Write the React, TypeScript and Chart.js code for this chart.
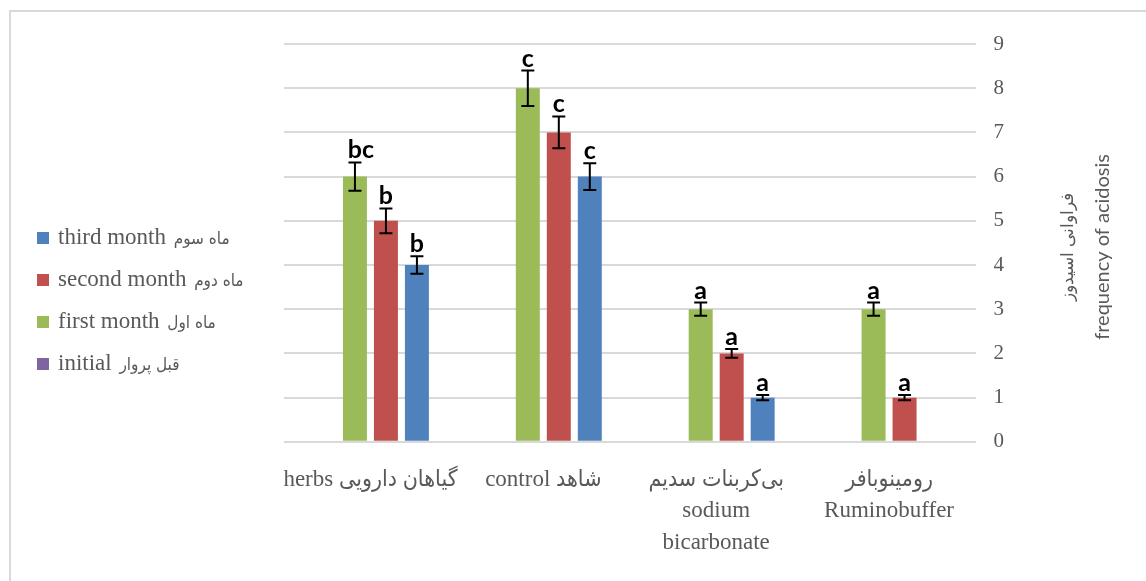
import React, { useEffect, useRef } from "react";
import { Chart, registerables } from "chart.js";

Chart.register(...registerables);

// ---- data ----
const categories: string[][] = [
  ["herbs گیاهان دارویی"],
  ["control شاهد"],
  ["بی‌کربنات سدیم", "sodium", "bicarbonate"],
  ["رومینوبافر", "Ruminobuffer"],
];
const seriesNames = ["initial قبل پروار", "first month ماه اول", "second month ماه دوم", "third month ماه سوم"];
const seriesColors = ["#8064A2", "#9BBB59", "#C0504D", "#4F81BD"];

const initialValues = [0, 0, 0, 0];
const firstMonth = [6, 8, 3, 3];
const secondMonth = [5, 7, 2, 1];
const thirdMonth = [4, 6, 1, 0];

const initialErr = [0, 0, 0, 0];
const firstErr = [0.32, 0.4, 0.15, 0.15];
const secondErr = [0.28, 0.36, 0.1, 0.06];
const thirdErr = [0.2, 0.3, 0.06, 0];

const initialLetters = ["", "", "", ""];
const firstLetters = ["bc", "c", "a", "a"];
const secondLetters = ["b", "c", "a", "a"];
const thirdLetters = ["b", "c", "a", ""];

const yMin = 0;
const yMax = 9;
const yStep = 1;
const yTitle = ["فراوانی اسیدوز", "frequency of acidosis"];

const seriesValues = [initialValues, firstMonth, secondMonth, thirdMonth];
const seriesErrors = [initialErr, firstErr, secondErr, thirdErr];
const seriesLetters = [initialLetters, firstLetters, secondLetters, thirdLetters];

const W = 1146;
const H = 581;
const GRAY = "#595959";
const SERIF = "'Liberation Serif', 'DejaVu Sans Condensed', serif";

const arabicRe = /[\u0600-\u06FF]/;

const decorPlugin = {
  id: "decor",
  beforeDraw(chart: any) {
    const ctx = chart.ctx;
    ctx.save();
    ctx.fillStyle = "#ffffff";
    ctx.fillRect(0, 0, chart.width, chart.height);
    ctx.fillStyle = "#d9d9d9";
    ctx.fillRect(9, 10, chart.width - 9, 2);
    ctx.fillRect(9, 10, 2, chart.height - 10);
    ctx.restore();
  },
  afterDatasetsDraw(chart: any) {
    const ctx = chart.ctx;
    const y = chart.scales.y;
    ctx.save();
    chart.data.datasets.forEach((ds: any, i: number) => {
      const meta = chart.getDatasetMeta(i);
      meta.data.forEach((el: any, j: number) => {
        const v = seriesValues[i][j];
        const e = seriesErrors[i][j];
        const x = el.x;
        let topPix = y.getPixelForValue(v);
        if (e > 0) {
          const yt = y.getPixelForValue(v + e);
          const yb = y.getPixelForValue(v - e);
          topPix = yt;
          ctx.strokeStyle = "#000000";
          ctx.lineWidth = 2;
          ctx.beginPath();
          ctx.moveTo(x, yt);
          ctx.lineTo(x, yb);
          ctx.moveTo(x - 6.5, yt);
          ctx.lineTo(x + 6.5, yt);
          ctx.moveTo(x - 6.5, yb);
          ctx.lineTo(x + 6.5, yb);
          ctx.stroke();
        }
        const letter = seriesLetters[i][j];
        if (letter) {
          ctx.fillStyle = "#000000";
          ctx.font = "bold 25px Lato";
          ctx.textAlign = "center";
          ctx.textBaseline = "alphabetic";
          ctx.fillText(letter, x + (letter.length > 1 ? 6 : 0), topPix - 4);
        }
      });
    });
    ctx.restore();
  },
  afterDraw(chart: any) {
    const ctx = chart.ctx;
    const area = chart.chartArea;
    ctx.save();
    // legend (reversed order)
    const n = chart.data.datasets.length;
    ctx.textAlign = "left";
    ctx.textBaseline = "middle";
    for (let k = 0; k < n; k++) {
      const i = n - 1 - k;
      const ds = chart.data.datasets[i];
      const cy = 238 + k * 42;
      ctx.fillStyle = ds.backgroundColor;
      ctx.fillRect(37, cy - 6, 12, 12);
      ctx.fillStyle = GRAY;
      const label: string = ds.label;
      const idx = label.search(arabicRe);
      const latin = idx > 0 ? label.slice(0, idx) : label;
      const persian = idx > 0 ? label.slice(idx) : "";
      ctx.font = "23px 'Liberation Serif'";
      ctx.fillText(latin, 58, cy);
      const w = ctx.measureText(latin).width;
      if (persian) {
        ctx.font = "17px 'DejaVu Sans Condensed', 'DejaVu Sans'";
        ctx.fillText(persian, 58 + w + 2, cy + 2);
      }
    }
    // y axis title, rotated to read bottom-to-top
    const cy = (area.top + area.bottom) / 2 + 4;
    ctx.fillStyle = GRAY;
    ctx.textAlign = "center";
    ctx.textBaseline = "middle";
    ctx.save();
    ctx.translate(area.right + 92, cy);
    ctx.rotate(-Math.PI / 2);
    ctx.font = "17px Lato";
    ctx.fillText(yTitle[0], 0, 0);
    ctx.restore();
    ctx.save();
    ctx.translate(area.right + 127, cy);
    ctx.rotate(-Math.PI / 2);
    ctx.font = "20px Lato";
    ctx.fillText(yTitle[1], 0, 0);
    ctx.restore();
    ctx.restore();
  },
};

export default function App() {
  const ref = useRef<HTMLCanvasElement | null>(null);

  useEffect(() => {
    document.body.style.margin = "0";
    document.body.style.overflow = "hidden";
    const canvas = ref.current;
    if (!canvas) return;
    const chart = new Chart(canvas, {
      type: "bar",
      data: {
        labels: categories,
        datasets: seriesValues.map((vals, i) => ({
          label: seriesNames[i],
          data: vals,
          backgroundColor: seriesColors[i],
          borderWidth: 0,
          categoryPercentage: 0.717,
          barPercentage: 0.774,
        })),
      },
      options: {
        responsive: false,
        animation: false,
        events: [],
        layout: { padding: { left: 284, top: 44, right: 124, bottom: 0 } },
        plugins: {
          legend: { display: false },
          tooltip: { enabled: false },
          title: { display: false },
        },
        scales: {
          x: {
            grid: { display: false, drawTicks: false },
            border: { display: false },
            ticks: {
              color: GRAY,
              font: { family: SERIF, size: 23, lineHeight: 1.35 },
              padding: 23,
              maxRotation: 0,
              minRotation: 0,
              autoSkip: false,
            },
          },
          y: {
            position: "right",
            min: yMin,
            max: yMax,
            grid: { color: "#d9d9d9", lineWidth: 2, drawTicks: false },
            border: { display: false },
            ticks: {
              stepSize: yStep,
              color: GRAY,
              font: { family: "'Liberation Serif'", size: 21 },
              padding: 18,
            },
          },
        },
      },
      plugins: [decorPlugin],
    });
    return () => chart.destroy();
  }, []);

  return <canvas ref={ref} width={W} height={H} style={{ display: "block" }} />;
}
